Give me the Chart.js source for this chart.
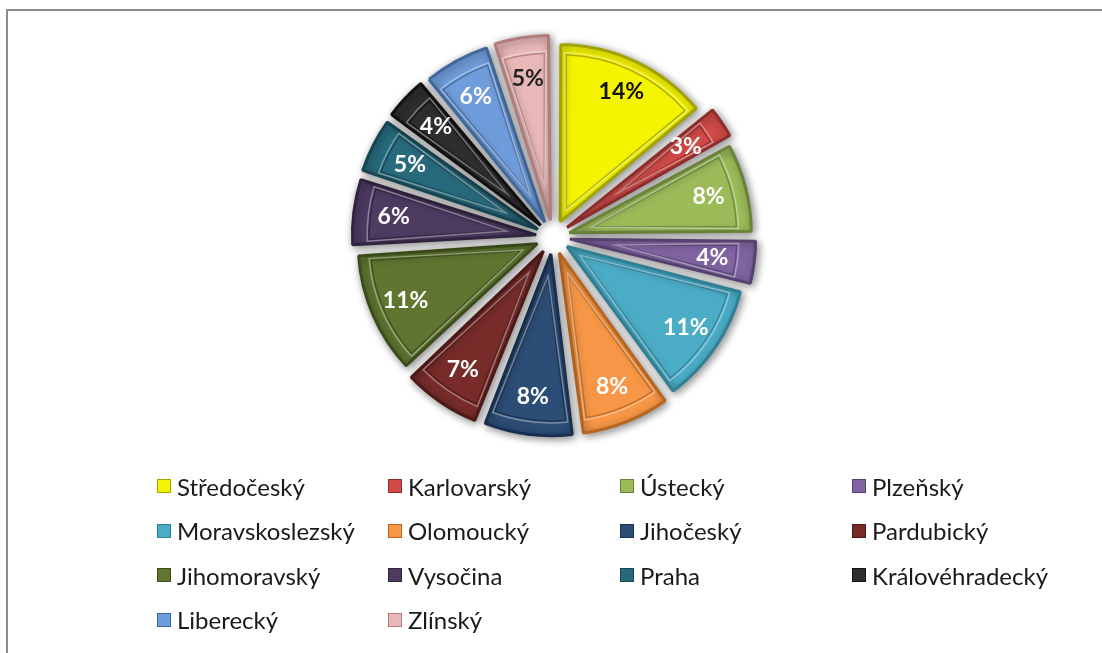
<!DOCTYPE html>
<html>
<head>
<meta charset="utf-8">
<script src="https://cdn.jsdelivr.net/npm/chart.js@4"></script>
<style>
  body { margin: 0; background: #fff; overflow: hidden; }
  #frame { position: absolute; left: 6px; top: 9px; width: 1200px; height: 700px;
           border-top: 2px solid #8c8c8c; border-left: 2px solid #8c8c8c; }
  #wrap { position: absolute; left: 2px; top: 0; width: 1102px; height: 474px; }
  #legend { position: absolute; left: 157px; top: 464px; display: grid;
            grid-template-columns: 231px 232px 232px 232px; grid-auto-rows: 44.5px;
            font-family: Lato, sans-serif; font-size: 24px; color: #1a1a1a; }
  .item { display: flex; align-items: center; white-space: nowrap; }
  .box { width: 12px; height: 12px; margin-right: 6px; border: 1px solid; flex: none; }
</style>
</head>
<body>
<div id="frame"></div>
<div id="wrap"><canvas id="pie"></canvas></div>
<div id="legend"></div>
<script>
// kraje a jejich podíl v %
const regions = ['Středočeský', 'Karlovarský', 'Ústecký', 'Plzeňský', 'Moravskoslezský', 'Olomoucký',
  'Jihočeský', 'Pardubický', 'Jihomoravský', 'Vysočina', 'Praha', 'Královéhradecký', 'Liberecký', 'Zlínský'];
const shares = [14, 3, 8, 4, 11, 8, 8, 7, 11, 6, 5, 4, 6, 5];

const fills = ['#f4f400', '#d04a47', '#9bbb59', '#8064a2', '#4bacc6', '#f79646', '#2c4d75',
  '#772c2a', '#5f7530', '#4d3b62', '#276a7c', '#2e2e2e', '#6f9ddb', '#e8b7b7'];
const edges = ['#a3a300', '#8e2e2c', '#6a823a', '#56426f', '#2f7f95', '#b7651f', '#1a3050',
  '#4d1a19', '#3c4c1c', '#30243f', '#174552', '#111111', '#41689a', '#b07c7c'];
const labelColors = ['#111', '#fff', '#fff', '#fff', '#fff', '#fff', '#fff',
  '#fff', '#fff', '#fff', '#fff', '#fff', '#fff', '#222'];

// v4 kreslí offset výseče jako offset / 4
const EXPLODE = 17;

// stín pod výsečemi
const sliceShadow = {
  id: 'sliceShadow',
  beforeDatasetsDraw(chart) {
    const ctx = chart.ctx;
    ctx.save();
    ctx.shadowColor = 'rgba(0,0,0,0.45)';
    ctx.shadowBlur = 8;
    ctx.shadowOffsetX = 2;
    ctx.shadowOffsetY = 2;
  },
  afterDatasetsDraw(chart) {
    chart.ctx.restore();
  }
};

// vnitřní linka – efekt zkosení
const bevel = {
  id: 'bevel',
  afterDatasetsDraw(chart) {
    const ctx = chart.ctx;
    const inset = 6;
    ctx.save();
    chart.getDatasetMeta(0).data.forEach((arc, i) => {
      const p = arc.getProps(['x', 'y', 'startAngle', 'endAngle', 'outerRadius'], true);
      const mid = (p.startAngle + p.endAngle) / 2;
      const half = (p.endAngle - p.startAngle) / 2;
      const cx = p.x + Math.cos(mid) * EXPLODE;
      const cy = p.y + Math.sin(mid) * EXPLODE;
      const r = p.outerRadius - inset;
      const tip = inset / Math.sin(half);
      const da = Math.asin(inset / r);
      ctx.beginPath();
      ctx.moveTo(cx + Math.cos(mid) * tip, cy + Math.sin(mid) * tip);
      ctx.arc(cx, cy, r, p.startAngle + da, p.endAngle - da);
      ctx.closePath();
      ctx.lineWidth = 1.5;
      ctx.strokeStyle = edges[i];
      ctx.globalAlpha = 0.8;
      ctx.stroke();
      ctx.beginPath();
      ctx.moveTo(cx + Math.cos(mid) * (tip - 2), cy + Math.sin(mid) * (tip - 2));
      ctx.arc(cx, cy, r + 2, p.startAngle + da * 0.7, p.endAngle - da * 0.7);
      ctx.closePath();
      ctx.strokeStyle = 'rgba(255,255,255,0.45)';
      ctx.lineWidth = 1.5;
      ctx.stroke();
      ctx.globalAlpha = 1;
    });
    ctx.restore();
  }
};

// procenta uvnitř výsečí
const pctLabels = {
  id: 'pctLabels',
  afterDatasetsDraw(chart) {
    const ctx = chart.ctx;
    ctx.save();
    ctx.font = 'bold 23px Lato';
    ctx.textAlign = 'center';
    ctx.textBaseline = 'middle';
    chart.getDatasetMeta(0).data.forEach((arc, i) => {
      const p = arc.getProps(['x', 'y', 'startAngle', 'endAngle', 'outerRadius'], true);
      const mid = (p.startAngle + p.endAngle) / 2;
      const d = EXPLODE + p.outerRadius * 0.83;
      ctx.fillStyle = labelColors[i];
      ctx.fillText(shares[i] + '%', p.x + Math.cos(mid) * d, p.y + Math.sin(mid) * d);
    });
    ctx.restore();
  }
};

const chart = new Chart(document.getElementById('pie'), {
  type: 'pie',
  data: {
    labels: regions,
    datasets: [{
      data: shares,
      backgroundColor: fills,
      borderColor: edges,
      borderWidth: 3,
      offset: EXPLODE * 4,
      radius: 173
    }]
  },
  options: {
    responsive: true,
    maintainAspectRatio: false,
    animation: false,
    layout: { padding: 0 },
    plugins: { legend: { display: false }, tooltip: { enabled: false } }
  },
  plugins: [sliceShadow, bevel, pctLabels]
});

// legenda ve čtyřech sloupcích
const legend = document.getElementById('legend');
chart.data.labels.forEach((name, i) => {
  const item = document.createElement('div');
  item.className = 'item';
  item.innerHTML = '<span class="box" style="background:' + fills[i] + ';border-color:' + edges[i] + '"></span>' + name;
  legend.appendChild(item);
});
</script>
</body>
</html>
